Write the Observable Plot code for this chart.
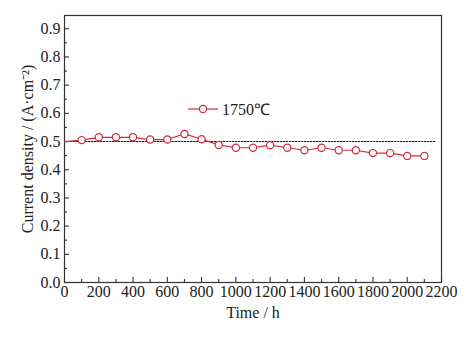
<!DOCTYPE html>
<html>
<head>
<meta charset="utf-8">
<script src="https://cdn.jsdelivr.net/npm/d3@7"></script>
<script src="https://cdn.jsdelivr.net/npm/@observablehq/plot@0.6"></script>
<style>
  html, body { margin: 0; padding: 0; background: #fff; }
  #chart svg { display: block; }
</style>
</head>
<body>
<div id="chart"></div>
<script>
// ---- data ----
const timeH = [0, 100, 200, 300, 400, 500, 600, 700, 800, 900, 1000, 1100, 1200, 1300, 1400, 1500, 1600, 1700, 1800, 1900, 2000, 2100];
const density = [0.50, 0.505, 0.515, 0.515, 0.515, 0.507, 0.507, 0.527, 0.508, 0.488, 0.478, 0.478, 0.487, 0.478, 0.469, 0.478, 0.469, 0.469, 0.459, 0.459, 0.449, 0.449];
const seriesName = "1750℃";
const refX = [0, 2160];
const refY = 0.5;
const xTicks = [0, 200, 400, 600, 800, 1000, 1200, 1400, 1600, 1800, 2000, 2200];
const xMinor = [100, 300, 500, 700, 900, 1100, 1300, 1500, 1700, 1900, 2100];
const yTicks = [0.0, 0.1, 0.2, 0.3, 0.4, 0.5, 0.6, 0.7, 0.8, 0.9];
const yMinor = [0.05, 0.15, 0.25, 0.35, 0.45, 0.55, 0.65, 0.75, 0.85];
const xLabel = "Time / h";
const yLabel = "Current density / (A·cm⁻²)";

const rows = timeH.map((t, i) => ({t, v: density[i]}));
const refRows = refX.map(t => ({t, v: refY}));
const red = "#d42a3c";
const axisColor = "#333";
const font = "'Liberation Serif', 'Times New Roman', serif";

const W = 468, H = 338, mL = 64, mR = 27, mT = 15, mB = 56;
const plotW = W - mL - mR, plotH = H - mT - mB;

const plot = Plot.plot({
  width: W,
  height: H,
  marginLeft: mL,
  marginRight: mR,
  marginTop: mT,
  marginBottom: mB,
  style: {fontFamily: font, fontSize: "16px", color: "#222", background: "#fff"},
  x: {domain: [0, 2200]},
  y: {domain: [0, 0.947]},
  marks: [
    Plot.axisX({ticks: xTicks, tickSize: 0, tickPadding: 3, tickFormat: d => String(d), fontSize: 16, label: null}),
    Plot.axisY({ticks: yTicks, tickSize: 0, tickPadding: 4, tickFormat: d3.format(".1f"), fontSize: 16, label: null}),
    // inward tick marks
    Plot.ruleX(xTicks, {x: d => d, insetTop: plotH - 5, stroke: axisColor, strokeWidth: 1.1}),
    Plot.ruleX(xMinor, {x: d => d, insetTop: plotH - 3, stroke: axisColor, strokeWidth: 1.1}),
    Plot.ruleY(yTicks, {y: d => d, insetRight: plotW - 5, stroke: axisColor, strokeWidth: 1.1}),
    Plot.ruleY(yMinor, {y: d => d, insetRight: plotW - 3, stroke: axisColor, strokeWidth: 1.1}),
    Plot.frame({stroke: axisColor, strokeWidth: 1.2}),
    Plot.line(refRows, {x: "t", y: "v", stroke: "#111", strokeWidth: 1.1, strokeDasharray: "1.5,1.5"}),
    Plot.line(rows, {x: "t", y: "v", stroke: red, strokeWidth: 1.2}),
    Plot.dot(rows.filter(d => d.t > 0), {x: "t", y: "v", r: 3.6, fill: "#fff", stroke: red, strokeWidth: 1.2}),
    Plot.text([yLabel], {frameAnchor: "left", dx: -37, rotate: -90, textAnchor: "middle", fontSize: 16, fill: "#222"}),
    Plot.text([xLabel], {frameAnchor: "bottom", dy: 35, fontSize: 16, fill: "#222"})
  ]
});

// legend
const svg = d3.select(plot);
const lg = svg.append("g").attr("transform", "translate(188,109)");
lg.append("line").attr("x1", 0).attr("x2", 30).attr("y1", 0).attr("y2", 0).attr("stroke", red).attr("stroke-width", 1.2);
lg.append("circle").attr("cx", 15).attr("cy", 0).attr("r", 3.6).attr("fill", "#fff").attr("stroke", red).attr("stroke-width", 1.2);
lg.append("text").attr("x", 34).attr("y", 5.5).attr("text-anchor", "start").attr("font-family", font).attr("font-size", 16).attr("fill", "#222").text(seriesName);

document.getElementById("chart").appendChild(plot);
</script>
</body>
</html>
